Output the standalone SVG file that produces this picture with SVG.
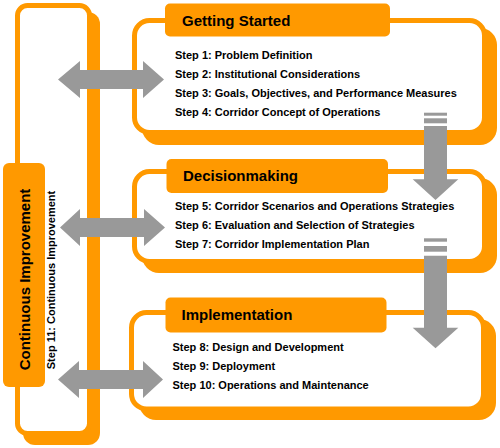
<svg xmlns="http://www.w3.org/2000/svg" width="500" height="448" viewBox="0 0 500 448">
<style>
.sh{fill:#FF9900}
.bx{fill:#FFFFFF;stroke:#FF9900;stroke-width:5}
.tab{fill:#FF9900}
.ttl{font-family:"Liberation Sans",Arial,sans-serif;font-weight:bold;font-size:15px;fill:#000}
.stp{font-family:"Liberation Sans",Arial,sans-serif;font-weight:bold;font-size:11px;fill:#000}
.ar{fill:#999999}
</style>
<rect width="500" height="448" fill="#FFFFFF"/>
<g id="continuous-improvement">
  <rect class="sh" x="23" y="12" width="77" height="433" rx="12"/>
  <rect class="bx" x="17.5" y="5.5" width="72" height="428" rx="10"/>
  <rect class="tab" x="3" y="163" width="42" height="224" rx="6"/>
  <text class="ttl" transform="translate(29.5,279.5) rotate(-90)" text-anchor="middle">Continuous Improvement</text>
  <text class="stp" transform="translate(54.5,280) rotate(-90)" text-anchor="middle">Step 11: Continuous Improvement</text>
</g>
<g id="getting-started">
  <rect class="sh" x="142" y="28" width="355" height="117" rx="17"/>
  <rect class="bx" x="134.5" y="20.5" width="350" height="112" rx="15"/>
  <rect class="tab" x="165" y="3.5" width="225" height="33" rx="5"/>
  <text class="ttl" x="182" y="26">Getting Started</text>
  <text class="stp" x="175" y="59">Step 1: Problem Definition</text>
  <text class="stp" x="175" y="78">Step 2: Institutional Considerations</text>
  <text class="stp" x="175" y="97">Step 3: Goals, Objectives, and Performance Measures</text>
  <text class="stp" x="175" y="116">Step 4: Corridor Concept of Operations</text>
</g>
<g id="decisionmaking">
  <rect class="sh" x="142" y="178" width="355" height="95" rx="17"/>
  <rect class="bx" x="134.5" y="171.5" width="350" height="90" rx="15"/>
  <rect class="tab" x="166.5" y="159" width="221.5" height="34" rx="5"/>
  <text class="ttl" x="183" y="181">Decisionmaking</text>
  <text class="stp" x="175" y="209.5">Step 5: Corridor Scenarios and Operations Strategies</text>
  <text class="stp" x="175" y="228.5">Step 6: Evaluation and Selection of Strategies</text>
  <text class="stp" x="175" y="247.5">Step 7: Corridor Implementation Plan</text>
</g>
<g id="implementation">
  <rect class="sh" x="139" y="319" width="357" height="101" rx="17"/>
  <rect class="bx" x="131.5" y="312.5" width="352" height="96.5" rx="15"/>
  <rect class="tab" x="165.5" y="297.5" width="221" height="35" rx="5"/>
  <text class="ttl" x="181.5" y="320">Implementation</text>
  <text class="stp" x="172.5" y="350.5">Step 8: Design and Development</text>
  <text class="stp" x="172.5" y="369.5">Step 9: Deployment</text>
  <text class="stp" x="172.5" y="388.5">Step 10: Operations and Maintenance</text>
</g>
<g id="connectors">
  <polygon class="ar" points="58,79.5 80,61 80,70 143,70 143,61 164,79.5 143,98 143,89 80,89 80,98"/>
  <polygon class="ar" points="60,227.5 80,209 80,218 144,218 144,209 165,227.5 144,246 144,237 80,237 80,246"/>
  <polygon class="ar" points="58,379.5 79,361 79,370 143,370 143,361 163,379.5 143,398 143,389 79,389 79,398"/>
  <rect class="ar" x="424" y="112.7" width="23" height="3"/>
  <rect class="ar" x="424" y="118.3" width="23" height="5"/>
  <polygon class="ar" points="424,126 447,126 447,179.3 458.3,179.3 435.5,200 412.7,179.3 424,179.3"/>
  <rect class="ar" x="424" y="238.3" width="23" height="3.4"/>
  <rect class="ar" x="424" y="246" width="23" height="5.7"/>
  <polygon class="ar" points="424,255.7 447,255.7 447,327.7 458.3,327.7 435.5,348.3 412.7,327.7 424,327.7"/>
</g>
</svg>
